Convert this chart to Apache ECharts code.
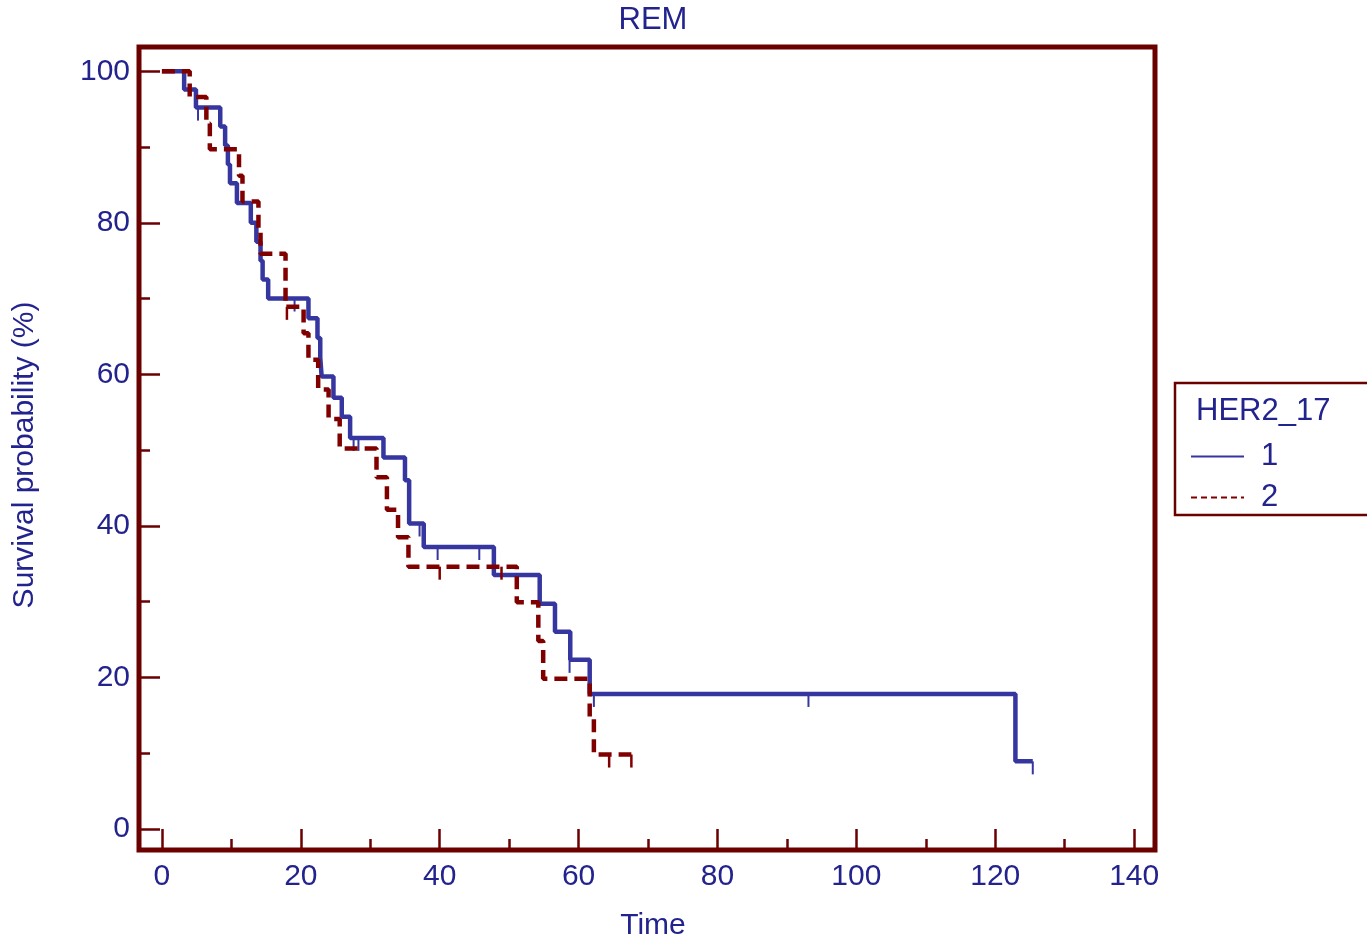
<!DOCTYPE html>
<html>
<head>
<meta charset="utf-8">
<script src="https://cdn.jsdelivr.net/npm/echarts@6/dist/echarts.min.js"></script>
<style>html,body{margin:0;padding:0;background:#fff;}#c{width:1367px;height:943px;}</style>
</head>
<body>
<div id="c"></div>
<script>
// ---- data ----
const titleText = 'REM';
const xTitle = 'Time';
const yTitle = 'Survival probability (%)';
const legendTitle = 'HER2_17';
const groupNames = ['1', '2'];

const xMajorTicks = [0, 20, 40, 60, 80, 100, 120, 140];
const xMinorTicks = [10, 30, 50, 70, 90, 110, 130];
const yMajorTicks = [0, 20, 40, 60, 80, 100];
const yMinorTicks = [10, 30, 50, 70, 90];

// group 1 (blue, solid) Kaplan-Meier steps
const blueTimes = [0, 3.2, 4.9, 8.4, 9.1, 9.5, 9.8, 10.8, 12.8, 13.6, 14.2, 14.5, 15.3, 21.1, 22.4, 22.8, 23.0, 24.7, 25.9, 27.1, 31.9, 35.0, 35.6, 37.7, 47.8, 54.4, 56.6, 58.8, 61.6, 122.9, 125.4];
const blueSurv  = [100, 97.6, 95.2, 92.7, 90.2, 87.7, 85.2, 82.6, 80.0, 77.5, 75.0, 72.5, 70.0, 67.4, 64.8, 62.2, 59.7, 56.9, 54.4, 51.6, 49.0, 46.0, 40.3, 37.2, 33.5, 29.7, 26.0, 22.3, 17.8, 8.9, 8.9];
const blueCensT = [5.2, 19.1, 27.6, 28.3, 37.1, 39.7, 45.7, 58.7, 62.2, 93.1, 125.4];
const blueCensS = [95.2, 70.0, 51.6, 51.6, 40.3, 37.2, 37.2, 22.3, 17.8, 17.8, 8.9];

// group 2 (dark red, dashed)
const redTimes = [0, 4.0, 6.4, 6.9, 11.1, 11.6, 13.9, 14.2, 17.8, 20.4, 21.1, 22.5, 24.0, 25.6, 30.9, 32.4, 34.0, 35.5, 51.1, 54.2, 54.9, 61.6, 62.2, 67.6];
const redSurv  = [100, 96.6, 93.1, 89.7, 86.2, 82.8, 79.3, 75.9, 68.9, 65.4, 61.9, 58.0, 54.1, 50.2, 46.4, 42.1, 38.5, 34.6, 29.9, 24.8, 19.8, 14.8, 9.8, 9.8];
const redCensT = [18.0, 40.0, 48.9, 64.4, 67.6];
const redCensS = [68.9, 34.6, 34.6, 9.8, 9.8];

// ---- styling ----
const navy = '#23238e';
const frame = '#6b0000';
const blue = '#3636a0';
const red = '#800000';
const FONT = 'Liberation Sans, Arial, sans-serif';

const zip = (a, b) => a.map((v, i) => [v, b[i]]);

const chart = echarts.init(document.getElementById('c'), null, {renderer: 'canvas'});

const xMin = -3.3, xMax = 143.0, yMin = -2.8, yMax = 103.2;

function xAxisDef(vals, len, labels) {
  return {
    type: 'value', position: 'bottom', min: xMin, max: xMax,
    axisLine: {show: false, onZero: false},
    splitLine: {show: false},
    axisTick: {show: true, inside: true, length: len, customValues: vals, lineStyle: {color: frame, width: 2.5}},
    axisLabel: labels ? {show: true, customValues: vals, color: navy, fontSize: 30, fontFamily: FONT, margin: 12} : {show: false}
  };
}
function yAxisDef(vals, len, labels) {
  return {
    type: 'value', position: 'left', min: yMin, max: yMax,
    axisLine: {show: false, onZero: false},
    splitLine: {show: false},
    axisTick: {show: true, inside: true, length: len, customValues: vals, lineStyle: {color: frame, width: 2.5}},
    axisLabel: labels ? {show: true, customValues: vals, color: navy, fontSize: 30, fontFamily: FONT, margin: 9} : {show: false}
  };
}

chart.setOption({
  animation: false,
  backgroundColor: '#ffffff',
  grid: {left: 139, right: 212, top: 47, bottom: 93, show: true, borderColor: frame, borderWidth: 5, backgroundColor: 'transparent'},
  xAxis: [xAxisDef(xMajorTicks, 21, true), xAxisDef(xMinorTicks, 11, false)],
  yAxis: [yAxisDef(yMajorTicks, 21, true), yAxisDef(yMinorTicks, 11, false)],
  legend: {
    orient: 'vertical', left: 1185, top: 436,
    itemWidth: 53, itemHeight: 14, itemGap: 10,
    textStyle: {color: navy, fontSize: 31, fontFamily: FONT, padding: [0, 0, 0, 12]},
    data: [
      {name: groupNames[0], itemStyle: {opacity: 0}, lineStyle: {width: 2, type: 'solid', color: blue}},
      {name: groupNames[1], itemStyle: {opacity: 0}, lineStyle: {width: 2, type: [6, 4], color: red}}
    ]
  },
  graphic: [
    {type: 'text', style: {text: titleText, fill: navy, font: '31px ' + FONT, textAlign: 'center', textVerticalAlign: 'middle'}, x: 653, y: 20},
    {type: 'text', style: {text: xTitle, fill: navy, font: '30px ' + FONT, textAlign: 'center', textVerticalAlign: 'middle'}, x: 653, y: 926},
    {type: 'text', style: {text: yTitle, fill: navy, font: '30px ' + FONT, textAlign: 'center', textVerticalAlign: 'middle'}, x: 25, y: 455, rotation: Math.PI / 2},
    {type: 'rect', shape: {x: 1175, y: 383, width: 200, height: 132}, style: {fill: 'none', stroke: frame, lineWidth: 2.5}},
    {type: 'text', style: {text: legendTitle, fill: navy, font: '31px ' + FONT, textAlign: 'left', textVerticalAlign: 'middle'}, x: 1196, y: 411}
  ],
  series: [
    {name: groupNames[0], type: 'line', step: 'end', symbol: 'none', data: zip(blueTimes, blueSurv),
     lineStyle: {color: blue, width: 4.5}, itemStyle: {color: blue}, z: 3},
    {name: groupNames[1], type: 'line', step: 'end', symbol: 'none', data: zip(redTimes, redSurv),
     lineStyle: {color: red, width: 4.5, type: [13, 7]}, itemStyle: {color: red}, z: 4},
    {name: 'c1', type: 'scatter', data: zip(blueCensT, blueCensS), symbol: 'rect', symbolSize: [2, 13], symbolOffset: [0, 6.5],
     itemStyle: {color: blue, opacity: 1}, z: 3, silent: true},
    {name: 'c2', type: 'scatter', data: zip(redCensT, redCensS), symbol: 'rect', symbolSize: [2.5, 13], symbolOffset: [0, 6.5],
     itemStyle: {color: red, opacity: 1}, z: 4, silent: true}
  ]
});
</script>
</body>
</html>
